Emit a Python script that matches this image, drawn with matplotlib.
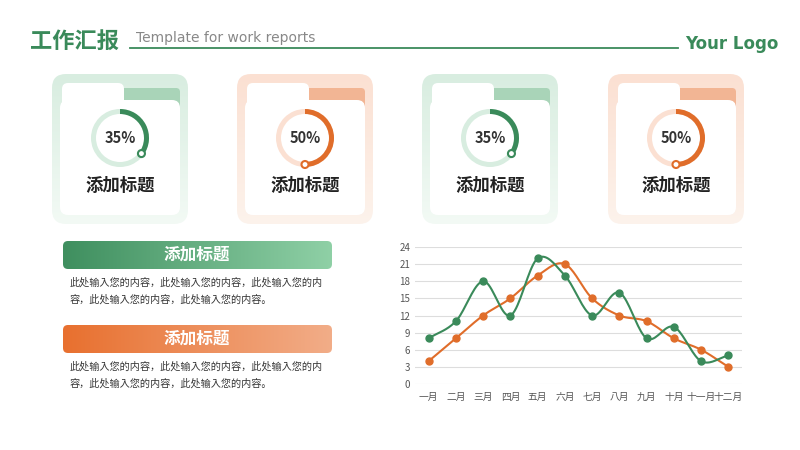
import numpy as np
import matplotlib
matplotlib.use("Agg")
import matplotlib.pyplot as plt
from matplotlib import font_manager as fm
from matplotlib.patches import FancyBboxPatch, Wedge, Circle
from matplotlib.colors import LinearSegmentedColormap

months = ["一月","二月","三月","四月","五月","六月","七月","八月","九月","十月","十一月","十二月"]
green_vals = [8, 11, 18, 12, 22, 19, 12, 16, 8, 10, 4, 5]
orange_vals = [4, 8, 12, 15, 19, 21, 15, 12, 11, 8, 6, 3]
y_ticks = [0, 3, 6, 9, 12, 15, 18, 21, 24]
card_pcts = [35, 50, 35, 50]
card_titles = ["添加标题"] * 4
banner_titles = ["添加标题", "添加标题"]
body_lines = ["此处输入您的内容，此处输入您的内容，此处输入您的内", "容，此处输入您的内容，此处输入您的内容。"]

# locate a CJK font
cjk_names = sorted({f.name for f in fm.fontManager.ttflist if "CJK" in f.name})
pref = [n for n in cjk_names if "SC" in n] or cjk_names
CJK = pref[0] if pref else "DejaVu Sans"
if not cjk_names:
    import glob
    files = glob.glob("/usr/share/fonts/**/*CJK*", recursive=True)
    if files:
        fm.fontManager.addfont(files[0])
        CJK = fm.FontProperties(fname=files[0]).get_name()
plt.rcParams['font.family'] = 'sans-serif'
plt.rcParams['font.sans-serif'] = [CJK, 'DejaVu Sans']

GREEN = "#3a8a5a"
ORANGE = "#e06d2a"

fig = plt.figure(figsize=(8, 4.5), dpi=100)
bg = fig.add_axes([0, 0, 1, 1])
bg.set_xlim(0, 800); bg.set_ylim(450, 0); bg.axis("off")

bg.text(30, 41, "工作汇报", fontsize=16, fontweight="bold", color=GREEN, va="center", family=CJK)
bg.text(136, 38, "Template for work reports", fontsize=10, color="#888888", va="center", family="DejaVu Sans")
bg.plot([130, 678], [48, 48], color=GREEN, lw=1.3)
bg.text(685, 44, "Your Logo", fontsize=12, fontweight="bold", color=GREEN, va="center", family="DejaVu Sans")

def grad_box(ax, x, y, w, h, c1, c2, r, horiz=True, z=1):
    p = FancyBboxPatch((x + r, y + r), w - 2*r, h - 2*r, boxstyle=f"round,pad={r}",
                       fc="none", ec="none", zorder=z)
    ax.add_patch(p)
    cmap = LinearSegmentedColormap.from_list("g", [c1, c2])
    g = np.linspace(0, 1, 256)
    img = g[None, :] if horiz else g[:, None]
    im = ax.imshow(img, cmap=cmap, extent=(x, x + w, y + h, y), aspect="auto", zorder=z)
    im.set_clip_path(p)
    return p

cards_x = [52, 237, 422, 608]
for i, cx in enumerate(cards_x):
    col = GREEN if i % 2 == 0 else ORANGE
    light = "#d8ede0" if i % 2 == 0 else "#fbe0d2"
    lighter = "#f3faf5" if i % 2 == 0 else "#fdf3ec"
    tab = "#a9d4b8" if i % 2 == 0 else "#f2b594"
    grad_box(bg, cx, 74, 136, 150, light, lighter, 14, horiz=False, z=1)
    bg.add_patch(FancyBboxPatch((cx + 72, 92), 52, 20, boxstyle="round,pad=4", fc=tab, ec="none", zorder=2))
    bg.add_patch(FancyBboxPatch((cx + 16, 89), 50, 20, boxstyle="round,pad=6", fc="white", ec="none", zorder=3))
    bg.add_patch(FancyBboxPatch((cx + 16, 108), 104, 99, boxstyle="round,pad=8", fc="white", ec="none", zorder=3))
    dx, dy, R = cx + 68, 138, 29
    bg.add_patch(Wedge((dx, dy), R, 0, 360, width=5, fc=light, ec="none", zorder=4))
    pct = card_pcts[i]
    bg.add_patch(Wedge((dx, dy), R, -90, -90 + 360 * pct / 100, width=5, fc=col, ec="none", zorder=5))
    ang = np.deg2rad(-90 + 360 * pct / 100)
    ex, ey = dx + (R - 2.5) * np.cos(ang), dy + (R - 2.5) * np.sin(ang)
    bg.add_patch(Circle((ex, ey), 3.5, fc="white", ec=col, lw=1.5, zorder=6))
    bg.text(dx, dy, f"{pct}%", fontsize=10.5, fontweight="bold", color="#333333", ha="center", va="center", zorder=6)
    bg.text(dx, 186, card_titles[i], fontsize=12.5, fontweight="bold", color="#222222", ha="center", va="center", zorder=6, family=CJK)

for j, (by, c1, c2) in enumerate([(241, "#3f8f5f", "#8fd0a6"), (325, "#e8702f", "#f2ad88")]):
    grad_box(bg, 63, by, 269, 28, c1, c2, 5, horiz=True, z=2)
    bg.text(197, by + 14, banner_titles[j], fontsize=12, fontweight="bold", color="white", ha="center", va="center", zorder=3, family=CJK)
    for k, line in enumerate(body_lines):
        bg.text(70, by + 42 + 17 * k, line, fontsize=7.3, color="#333333", va="center", family=CJK)

ax = fig.add_axes([415/800, (450-384)/450, 327/800, 137/450])
x = np.arange(len(months))

def smooth(xs, ys, n=20):
    xs = np.asarray(xs, float); ys = np.asarray(ys, float)
    px, py = [], []
    m = np.gradient(ys, xs)
    for i in range(len(xs) - 1):
        t = np.linspace(0, 1, n)
        h = xs[i+1] - xs[i]
        h00 = 2*t**3 - 3*t**2 + 1; h10 = t**3 - 2*t**2 + t
        h01 = -2*t**3 + 3*t**2; h11 = t**3 - t**2
        px.extend(xs[i] + t*h)
        py.extend(h00*ys[i] + h10*h*m[i] + h01*ys[i+1] + h11*h*m[i+1])
    return px, py

for vals, col in [(orange_vals, ORANGE), (green_vals, GREEN)]:
    sx, sy = smooth(x, vals)
    ax.plot(sx, sy, color=col, lw=1.5, zorder=3)
    ax.plot(x, vals, "o", color=col, ms=5, zorder=4)

ax.set_xlim(-0.5, 11.5); ax.set_ylim(0, 24)
ax.set_yticks(y_ticks)
ax.set_xticks(x, months, family=CJK)
ax.grid(axis="y", color="#dddddd", lw=0.8)
ax.set_axisbelow(True)
for s in ax.spines.values():
    s.set_visible(False)
ax.tick_params(length=0, labelsize=7, colors="#555555")
ax.tick_params(axis="x", pad=6)
ax.patch.set_alpha(0)

fig.savefig("out.png", dpi=100, facecolor="white")
